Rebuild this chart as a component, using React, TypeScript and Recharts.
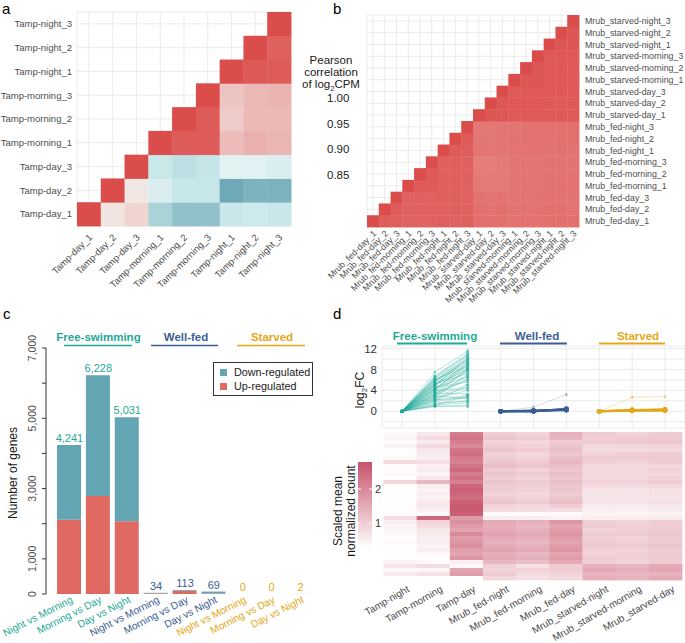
import React from 'react';
import {
  ScatterChart,
  Scatter,
  XAxis,
  YAxis,
  CartesianGrid,
  ComposedChart,
  Bar,
  LabelList,
  Legend,
  LineChart,
  Line,
} from 'recharts';

const FONT = '"Liberation Sans", Arial, Helvetica, sans-serif';
const GREY = '#4d4d4d';
const GRID = '#ebebeb';
const TEAL = '#1fa997';
const NAVY = '#3b5e91';
const GOLD = '#e3a81a';
const UP_COL = '#e06a62';
const DOWN_COL = '#64a5b3';

// ---------- a: Tamp replicate correlations ----------
const tampSamples = [
  'Tamp-day_1', 'Tamp-day_2', 'Tamp-day_3',
  'Tamp-morning_1', 'Tamp-morning_2', 'Tamp-morning_3',
  'Tamp-night_1', 'Tamp-night_2', 'Tamp-night_3',
];
// one row per sample (bottom to top), starting at the diagonal
const tampCorr = [
  [1.0, 0.81, 0.83, 0.7, 0.666, 0.668, 0.74, 0.746, 0.74],
  [1.0, 0.805, 0.766, 0.74, 0.738, 0.622, 0.64, 0.638],
  [1.0, 0.742, 0.724, 0.736, 0.778, 0.777, 0.766],
  [1.0, 0.982, 0.981, 0.86, 0.874, 0.868],
  [1.0, 0.981, 0.842, 0.864, 0.864],
  [1.0, 0.85, 0.866, 0.87],
  [1.0, 0.985, 0.982],
  [1.0, 0.975],
  [1.0],
];

// ---------- b: Mrub replicate correlations ----------
const mrubSamples = [
  'Mrub_fed-day_1', 'Mrub_fed-day_2', 'Mrub_fed-day_3',
  'Mrub_fed-morning_1', 'Mrub_fed-morning_2', 'Mrub_fed-morning_3',
  'Mrub_fed-night_1', 'Mrub_fed-night_2', 'Mrub_fed-night_3',
  'Mrub_starved-day_1', 'Mrub_starved-day_2', 'Mrub_starved-day_3',
  'Mrub_starved-morning_1', 'Mrub_starved-morning_2', 'Mrub_starved-morning_3',
  'Mrub_starved-night_1', 'Mrub_starved-night_2', 'Mrub_starved-night_3',
];
const mrubCorr = [
  [1, 0.982, 0.98, 0.975, 0.975, 0.975, 0.977, 0.976, 0.978, 0.962, 0.96, 0.96, 0.958, 0.958, 0.958, 0.96, 0.962, 0.96],
  [1, 0.983, 0.976, 0.976, 0.975, 0.977, 0.977, 0.975, 0.96, 0.958, 0.962, 0.957, 0.957, 0.958, 0.96, 0.96, 0.958],
  [1, 0.976, 0.977, 0.976, 0.978, 0.978, 0.976, 0.958, 0.956, 0.958, 0.956, 0.955, 0.957, 0.958, 0.958, 0.957],
  [1, 0.985, 0.984, 0.979, 0.979, 0.976, 0.95, 0.948, 0.95, 0.955, 0.956, 0.956, 0.957, 0.958, 0.958],
  [1, 0.985, 0.978, 0.978, 0.977, 0.948, 0.947, 0.95, 0.955, 0.954, 0.955, 0.957, 0.957, 0.957],
  [1, 0.979, 0.979, 0.977, 0.946, 0.946, 0.95, 0.954, 0.955, 0.955, 0.957, 0.958, 0.957],
  [1, 0.984, 0.983, 0.955, 0.953, 0.955, 0.956, 0.958, 0.958, 0.958, 0.96, 0.958],
  [1, 0.984, 0.954, 0.953, 0.955, 0.957, 0.957, 0.958, 0.958, 0.96, 0.96],
  [1, 0.952, 0.952, 0.954, 0.956, 0.957, 0.958, 0.958, 0.959, 0.96],
  [1, 0.988, 0.988, 0.986, 0.986, 0.986, 0.985, 0.985, 0.985],
  [1, 0.988, 0.986, 0.986, 0.986, 0.985, 0.985, 0.985],
  [1, 0.986, 0.986, 0.986, 0.985, 0.985, 0.985],
  [1, 0.989, 0.989, 0.986, 0.986, 0.986],
  [1, 0.989, 0.986, 0.986, 0.986],
  [1, 0.986, 0.986, 0.986],
  [1, 0.99, 0.99],
  [1, 0.99],
  [1],
];
const pearsonTicks = ['1.00', '0.95', '0.90', '0.85'];

// ---------- c: DE gene counts ----------
const conditions = ['Free-swimming', 'Well-fed', 'Starved'];
const conditionColors = [TEAL, NAVY, GOLD];
const comparisons = ['Night vs Morning', 'Morning vs Day', 'Day vs Night'];
const upRegulated = [2115, 2790, 2070, 20, 90, 15, 0, 0, 0];
const downRegulated = [2126, 3438, 2961, 14, 23, 54, 0, 0, 2];
const countTicks = [0, 1000, 2000, 3000, 4000, 5000, 6000, 7000];

// ---------- d: log2FC profiles and heatmap ----------
const timepoints = [
  'Tamp-night', 'Tamp-morning', 'Tamp-day',
  'Mrub_fed-night', 'Mrub_fed-morning', 'Mrub_fed-day',
  'Mrub_starved-night', 'Mrub_starved-morning', 'Mrub_starved-day',
];
const freeMorning = [1.0, 1.4, 2.1, 2.6, 3.0, 3.3, 3.7, 4.0, 4.4, 4.8, 5.1, 5.5, 5.9, 6.3, 6.8, 7.5, 1.2, 1.8, 2.4, 2.9, 3.5, 3.9, 4.2, 4.6, 5.0, 5.3, 5.7, 6.1, 6.6, 0.9, 1.6, 2.2, 2.8, 3.2, 3.6, 4.1, 4.5, 4.9, 5.4, 5.8, 6.4, 1.1, 2.0, 3.1, 4.3, 5.2, 6.0, 2.5];
const freeDay = [0.9, 2.0, 3.1, 5.2, 2.4, 6.8, 7.6, 4.3, 8.4, 9.1, 7.9, 10.2, 9.6, 11.0, 10.6, 11.6, 1.6, 2.8, 4.0, 6.1, 3.3, 8.0, 8.9, 5.6, 9.9, 7.2, 10.8, 8.6, 11.3, 1.2, 1.9, 2.6, 7.1, 8.2, 5.9, 9.4, 6.6, 10.4, 8.8, 9.2, 10.0, 3.0, 5.0, 6.4, 7.7, 8.3, 9.7, 4.6];
const fedMorning = [0.05, 0.0, 0.1, -0.05, 0.15, 0.8, 0.02, 0.08];
const fedDay = [0.3, 0.45, 0.2, 0.5, 0.35, 3.2, 0.4, 0.25];
const starvedMorning = [0.1, 0.2, 0.3, 0.15, 2.7, 0.05, 0.25];
const starvedDay = [0.2, 0.3, 0.1, 0.35, 2.8, 0.15, 0.4];
const fcTicks = [-2, 0, 2, 4, 6, 8, 10, 12];

// scaled mean normalized count, one array per timepoint, rows top to bottom
const countTampNight = [0.35, 0.4, 0.3, 0.45, 0.3, 0.3, 0.35, 0.8, 0.3, 0.3, 0.35, 0.3, 0.85, 0.3, 0.25, 0.3, 0.25, 0.3, 0.3, 0.3, 0.3, 0.75, 0.5, 0.45, 0.4, 0.35, 0.3, 0.35, 0.3, 0.3, 0.25, 0.3, 0.45, 0.65, 0.35, 0.55, 0.25];
const countTampMorning = [0.6, 0.75, 0.55, 0.8, 0.6, 0.55, 0.5, 0.7, 0.5, 0.55, 0.45, 0.6, 1.3, 0.5, 0.45, 0.5, 0.45, 0.55, 0.6, 0.5, 0.35, 2.5, 0.9, 0.8, 0.6, 0.55, 0.5, 0.5, 0.45, 0.5, 0.35, 0.3, 0.35, 0.75, 0.4, 0.7, 0.25];
const countTampDay = [2.2, 2.3, 2.15, 2.0, 2.3, 2.4, 2.2, 2.1, 2.3, 2.45, 2.2, 2.35, 2.1, 2.5, 2.6, 2.5, 2.4, 2.6, 2.7, 2.7, 2.6, 1.7, 1.9, 1.75, 1.6, 2.0, 1.7, 1.8, 1.9, 1.65, 1.6, 1.8, 0.5, 0.35, 1.6, 1.7, 0.25];
const countFedNight = [1.0, 1.1, 0.9, 1.0, 1.1, 0.95, 1.0, 1.1, 1.2, 1.0, 1.1, 1.0, 1.1, 1.0, 1.0, 0.9, 1.0, 1.1, 0.9, 0.8, 0.35, 0.5, 1.5, 1.45, 1.5, 1.6, 1.5, 1.4, 1.5, 1.6, 1.45, 1.5, 1.3, 0.95, 0.9, 1.0, 0.85];
const countFedMorning = [0.9, 1.0, 0.85, 0.9, 1.0, 0.85, 0.9, 1.0, 1.1, 0.9, 1.0, 0.9, 1.0, 0.95, 0.9, 0.85, 0.9, 1.0, 0.85, 0.75, 0.35, 0.5, 1.4, 1.3, 1.4, 1.5, 1.4, 1.3, 1.4, 1.5, 1.3, 1.4, 1.2, 0.7, 0.9, 0.8, 0.7];
const countFedDay = [1.4, 1.35, 1.0, 1.1, 1.2, 1.1, 1.2, 1.3, 1.2, 1.1, 1.2, 1.1, 1.2, 1.1, 1.1, 1.0, 1.1, 1.2, 1.0, 0.75, 0.35, 0.45, 1.8, 1.6, 1.7, 1.8, 1.7, 1.6, 1.7, 1.8, 1.6, 1.7, 1.5, 1.0, 1.0, 0.9, 0.8];
const countStarvedNight = [1.0, 0.95, 1.0, 0.85, 0.8, 0.9, 1.0, 0.95, 0.85, 0.8, 0.85, 0.8, 0.9, 0.8, 0.65, 0.6, 0.65, 0.6, 0.55, 0.5, 0.45, 0.5, 0.95, 1.0, 0.9, 1.0, 0.95, 1.0, 1.05, 0.95, 0.9, 1.0, 0.95, 1.4, 1.5, 1.35, 1.45];
const countStarvedMorning = [0.9, 1.0, 1.05, 0.85, 0.8, 0.95, 1.0, 0.9, 0.8, 0.85, 0.8, 0.85, 0.9, 0.75, 0.6, 0.65, 0.6, 0.65, 0.55, 0.5, 0.4, 0.5, 0.9, 0.95, 0.95, 1.0, 0.9, 0.95, 1.0, 0.9, 0.95, 0.95, 0.9, 1.35, 1.4, 1.3, 1.35];
const countStarvedDay = [1.0, 1.05, 1.1, 0.9, 0.85, 1.0, 1.05, 1.0, 0.85, 0.9, 0.85, 0.9, 1.0, 0.8, 0.7, 0.7, 0.65, 0.7, 0.6, 0.55, 0.45, 0.55, 1.0, 1.0, 1.05, 1.1, 1.0, 1.05, 1.1, 1.0, 1.0, 1.05, 1.0, 1.5, 1.55, 1.4, 1.5];
const countColumns = [
  countTampNight, countTampMorning, countTampDay,
  countFedNight, countFedMorning, countFedDay,
  countStarvedNight, countStarvedMorning, countStarvedDay,
];

// ---------- colour helpers ----------
const mix = (c1: string, c2: string, t: number) => {
  const tt = Math.max(0, Math.min(1, t));
  const a = [1, 3, 5].map((i) => parseInt(c1.slice(i, i + 2), 16));
  const b = [1, 3, 5].map((i) => parseInt(c2.slice(i, i + 2), 16));
  return `rgb(${a.map((v, k) => Math.round(v + (b[k] - v) * tt)).join(',')})`;
};
const colorTamp = (v: number) => {
  if (v >= 0.8) return mix('#f2ece9', '#db4d4a', (v - 0.8) / 0.2);
  const t = (0.8 - v) / 0.2;
  return t < 0.3 ? mix('#f2f8f8', '#c8e7ea', t / 0.3) : mix('#c8e7ea', '#5e9ead', (t - 0.3) / 0.7);
};
const colorMrub = (v: number) => mix('#ffffff', '#db4d4a', (v - 0.8) / 0.2);
const colorCount = (v: number) => mix('#ffffff', '#c7536a', (v - 0.25) / 2.55);

const fmt = (v: number) => String(v).replace(/\B(?=(\d{3})+(?!\d))/g, ',');

type Cell = { x: number; y: number; v: number };

const triangleCells = (rows: number[][]): Cell[] =>
  rows.flatMap((row, i) => row.map((v, k) => ({ x: i + k + 1, y: i + 1, v })));

function Heatmap(props: {
  width: number;
  height: number;
  margin: { top: number; right: number; bottom: number; left: number };
  nx: number;
  ny: number;
  cells: Cell[];
  color: (v: number) => string;
  xLabels: string[];
  yLabels?: string[];
  yOrientation?: 'left' | 'right';
  yAxisWidth: number;
  xAxisHeight: number;
  fontSize: number;
  angle: number;
  dx: number;
  dy: number;
  grid: boolean;
}) {
  const { width, height, margin, nx, ny, cells, color, xLabels, yLabels, yAxisWidth, xAxisHeight, fontSize, angle, dx, dy } = props;
  const cw = (width - margin.left - margin.right - yAxisWidth) / nx;
  const ch = (height - margin.top - margin.bottom - xAxisHeight) / ny;
  const xt = Array.from({ length: nx }, (_, i) => i + 1);
  const yt = Array.from({ length: ny }, (_, i) => i + 1);
  const right = props.yOrientation === 'right';
  return (
    <ScatterChart width={width} height={height} margin={margin}>
      {props.grid && <CartesianGrid stroke={GRID} strokeWidth={1} />}
      <XAxis
        type="number"
        dataKey="x"
        domain={[0.5, nx + 0.5]}
        ticks={xt}
        interval={0}
        height={xAxisHeight}
        axisLine={false}
        tickLine={false}
        tickSize={0}
        tickMargin={0}
        tick={(p: any) => {
          const tx = p.x + dx;
          const ty = p.y + dy;
          return (
            <text x={tx} y={ty} transform={`rotate(${angle} ${tx} ${ty})`} textAnchor="end" fontSize={fontSize} fill={GREY} fontFamily={FONT}>
              {xLabels[p.payload.value - 1]}
            </text>
          );
        }}
      />
      <YAxis
        type="number"
        dataKey="y"
        domain={[0.5, ny + 0.5]}
        ticks={yt}
        interval={0}
        hide={!yLabels}
        width={yAxisWidth}
        orientation={props.yOrientation || 'left'}
        axisLine={false}
        tickLine={false}
        tickSize={0}
        tickMargin={0}
        tick={(p: any) => (
          <text
            x={right ? p.x + 6 : p.x - 5}
            y={p.y}
            dy="0.35em"
            textAnchor={right ? 'start' : 'end'}
            fontSize={fontSize}
            fill={GREY}
            fontFamily={FONT}
          >
            {yLabels ? yLabels[p.payload.value - 1] : ''}
          </text>
        )}
      />
      <Scatter
        data={cells}
        isAnimationActive={false}
        shape={(p: any) => (
          <rect x={p.cx - cw / 2} y={p.cy - ch / 2} width={cw + 0.4} height={ch + 0.4} fill={color(p.payload.v)} />
        )}
      />
    </ScatterChart>
  );
}

// ---------- c ----------
const deTable = conditions.flatMap((cond, ci) =>
  comparisons.map((cmp, k) => {
    const i = ci * 3 + k;
    return {
      id: `${cond}: ${cmp}`,
      cmp,
      group: ci,
      up: upRegulated[i],
      down: downRegulated[i],
      total: upRegulated[i] + downRegulated[i],
    };
  })
);

function DeBars() {
  return (
    <ComposedChart width={340} height={343} data={deTable} margin={{ top: 48, right: 25, bottom: 0, left: 0 }}>
      <XAxis
        dataKey="id"
        height={49}
        padding={{ left: 9, right: 0 }}
        axisLine={false}
        tickLine={false}
        tickSize={0}
        tickMargin={0}
        interval={0}
        tick={(p: any) => {
          const row = deTable[p.index];
          const tx = p.x + 4;
          const ty = p.y + 8;
          return (
            <text x={tx} y={ty} transform={`rotate(-27 ${tx} ${ty})`} textAnchor="end" fontSize={10.2} fill={conditionColors[row.group]} fontFamily={FONT}>
              {row.cmp}
            </text>
          );
        }}
      />
      <YAxis
        type="number"
        domain={[0, 7000]}
        ticks={countTicks}
        interval={0}
        width={46}
        axisLine={{ stroke: '#333', strokeWidth: 1 }}
        tickLine={{ stroke: '#333', strokeWidth: 1 }}
        tickSize={4}
        tickMargin={0}
        tick={(p: any) => {
          const v = p.payload.value;
          if (!(v === 0 || v % 2000 === 1000)) return <g />;
          const tx = p.x - 6;
          return (
            <text x={tx} y={p.y} transform={`rotate(-90 ${tx} ${p.y})`} textAnchor="middle" fontSize={10.5} fill={GREY} fontFamily={FONT}>
              {fmt(v)}
            </text>
          );
        }}
      />
      <Legend
        layout="vertical"
        align="center"
        verticalAlign="middle"
        wrapperStyle={{ position: 'absolute', left: 213, top: 62, width: 100, height: 34 }}
        content={() => (
          <div style={{ position: 'relative', width: 98, height: 32, border: '1px solid #333', fontFamily: FONT, fontSize: 10.8, color: '#1a1a1a', whiteSpace: 'nowrap' }}>
            {[
              ['Down-regulated', DOWN_COL],
              ['Up-regulated', UP_COL],
            ].map(([name, col], i) => (
              <div key={name} style={{ position: 'absolute', left: 6, top: 2 + i * 14, height: 14, display: 'flex', alignItems: 'center' }}>
                <span style={{ display: 'inline-block', width: 7, height: 7, background: col, marginRight: 7 }} />
                <span>{name}</span>
              </div>
            ))}
          </div>
        )}
      />
      <Bar dataKey="up" stackId="n" fill={UP_COL} barSize={24} isAnimationActive={false} />
      <Bar dataKey="down" stackId="n" fill={DOWN_COL} barSize={24} isAnimationActive={false} />
      <Line
        dataKey="total"
        stroke="none"
        dot={false}
        activeDot={false}
        legendType="none"
        isAnimationActive={false}
      >
        <LabelList
          dataKey="total"
          content={(p: any) => (
            <text x={p.x} y={p.y - 3} textAnchor="middle" fontSize={11} fill={conditionColors[deTable[p.index].group]} fontFamily={FONT}>
              {fmt(p.value)}
            </text>
          )}
        />
      </Line>
    </ComposedChart>
  );
}

// ---------- d ----------
const fcRows = timepoints.map((tp, k) => {
  const row: Record<string, number | string> = { pos: k + 1, tp };
  freeMorning.forEach((m, i) => {
    if (k < 3) row[`f${i}`] = [0, m, freeDay[i]][k];
  });
  fedMorning.forEach((m, i) => {
    if (k >= 3 && k < 6) row[`w${i}`] = [0, m, fedDay[i]][k - 3];
  });
  starvedMorning.forEach((m, i) => {
    if (k >= 6) row[`s${i}`] = [0, m, starvedDay[i]][k - 6];
  });
  return row;
});

function FoldChange() {
  // lines that stay near zero overlap into one heavy stroke; the few that rise are faint
  const series = [
    ...freeMorning.map((_, i) => ({ key: `f${i}`, col: TEAL, op: 0.3, w: 1, r: 1.5 })),
    ...fedMorning.map((m, i) => {
      const rise = Math.max(m, fedDay[i]) > 1;
      return { key: `w${i}`, col: NAVY, op: rise ? 0.2 : 0.75, w: rise ? 1 : 2, r: rise ? 1.4 : 2.4 };
    }),
    ...starvedMorning.map((m, i) => {
      const rise = Math.max(m, starvedDay[i]) > 1;
      return { key: `s${i}`, col: GOLD, op: rise ? 0.3 : 0.75, w: rise ? 1 : 2, r: rise ? 1.4 : 2.4 };
    }),
  ];
  return (
    <LineChart width={385} height={135} data={fcRows} margin={{ top: 46, right: 0, bottom: 7, left: 0 }}>
      <CartesianGrid stroke={GRID} strokeWidth={1} />
      <XAxis type="number" dataKey="pos" domain={[0.392, 9.608]} ticks={[1, 2, 3, 4, 5, 6, 7, 8, 9]} hide />
      <YAxis
        type="number"
        domain={[-3.2, 12.5]}
        ticks={fcTicks}
        interval={0}
        allowDataOverflow
        width={82}
        axisLine={false}
        tickLine={false}
        tickSize={0}
        tickMargin={0}
        tick={(p: any) => {
          const v = p.payload.value;
          if (v < 0 || v % 4 !== 0) return <g />;
          return (
            <text x={p.x - 5} y={p.y} dy="0.35em" textAnchor="end" fontSize={11.5} fill="#333" fontFamily={FONT}>
              {v}
            </text>
          );
        }}
      />
      {series.map((s) => (
        <Line
          key={s.key}
          dataKey={s.key}
          stroke={s.col}
          strokeOpacity={s.op}
          strokeWidth={s.w}
          dot={{ r: s.r, fill: s.col, fillOpacity: Math.min(1, s.op + 0.2), stroke: 'none' }}
          isAnimationActive={false}
        />
      ))}
    </LineChart>
  );
}

const countCells: Cell[] = countColumns.flatMap((col, c) =>
  col.map((v, r) => ({ x: c + 1, y: col.length - r, v }))
);

export default function App() {
  const headC = [
    { cx: 98.5, x1: 64, x2: 132 },
    { cx: 186, x1: 151, x2: 218 },
    { cx: 272, x1: 237, x2: 305 },
  ];
  const headD = [
    { cx: 435, x1: 397, x2: 467 },
    { cx: 537, x1: 500, x2: 567 },
    { cx: 638, x1: 599, x2: 665 },
  ];
  return (
    <div style={{ position: 'absolute', left: 0, top: 0, width: 685, height: 643, background: '#fff', overflow: 'hidden', fontFamily: FONT }}>
      <div style={{ position: 'absolute', left: 0, top: 0 }}>
        <Heatmap
          width={300}
          height={310}
          margin={{ top: 12, right: 9, bottom: 10, left: 0 }}
          nx={9}
          ny={9}
          cells={triangleCells(tampCorr)}
          color={colorTamp}
          xLabels={tampSamples}
          yLabels={tampSamples}
          yAxisWidth={77}
          xAxisHeight={74}
          fontSize={9.5}
          angle={-45}
          dx={4}
          dy={12}
          grid
        />
      </div>
      <div style={{ position: 'absolute', left: 300, top: 0 }}>
        <Heatmap
          width={385}
          height={330}
          margin={{ top: 15, right: 0, bottom: 30, left: 67 }}
          nx={18}
          ny={18}
          cells={triangleCells(mrubCorr)}
          color={colorMrub}
          xLabels={mrubSamples}
          yLabels={mrubSamples}
          yOrientation="right"
          yAxisWidth={106}
          xAxisHeight={73}
          fontSize={8.8}
          angle={-45}
          dx={4}
          dy={7}
          grid
        />
      </div>
      <div style={{ position: 'absolute', left: 0, top: 300 }}>
        <DeBars />
      </div>
      <div style={{ position: 'absolute', left: 300, top: 300 }}>
        <FoldChange />
      </div>
      <div style={{ position: 'absolute', left: 300, top: 430 }}>
        <Heatmap
          width={385}
          height={213}
          margin={{ top: 2, right: 3, bottom: 0, left: 83.5 }}
          nx={9}
          ny={37}
          cells={countCells}
          color={colorCount}
          xLabels={timepoints}
          yAxisWidth={0}
          xAxisHeight={63}
          fontSize={10}
          angle={-30}
          dx={10}
          dy={11}
          grid={false}
        />
      </div>

      <svg width={685} height={643} style={{ position: 'absolute', left: 0, top: 0, pointerEvents: 'none' }} fontFamily={FONT}>
        <text x={2} y={14} fontSize={15} fill="#000">a</text>
        <text x={333} y={14} fontSize={15} fill="#000">b</text>
        <text x={3} y={319} fontSize={15} fill="#000">c</text>
        <text x={333} y={319} fontSize={15} fill="#000">d</text>

        {/* b: colour legend title and labels */}
        <g fontSize={11.5} fill="#1a1a1a" textAnchor="middle">
          <text x={331} y={64}>Pearson</text>
          <text x={331} y={76}>correlation</text>
          <text x={331} y={88}>
            of log<tspan fontSize={7.5} dy={3}>2</tspan>
            <tspan dy={-3}>CPM</tspan>
          </text>
        </g>
        {pearsonTicks.map((t, i) => (
          <text key={t} x={327} y={102 + i * 25.5} fontSize={11.5} fill="#1a1a1a">{t}</text>
        ))}

        {/* c: condition headers */}
        {conditions.map((c, i) => (
          <g key={c}>
            <text x={headC[i].cx} y={341} textAnchor="middle" fontSize={11.5} fontWeight="bold" fill={conditionColors[i]}>{c}</text>
            <line x1={headC[i].x1} x2={headC[i].x2} y1={345.5} y2={345.5} stroke={conditionColors[i]} strokeWidth={1.5} />
          </g>
        ))}
        <text x={17} y={473} transform="rotate(-90 17 473)" textAnchor="middle" fontSize={12} fill="#1a1a1a">Number of genes</text>

        {/* d: condition headers */}
        {conditions.map((c, i) => (
          <g key={c}>
            <text x={headD[i].cx} y={340} textAnchor="middle" fontSize={11.5} fontWeight="bold" fill={conditionColors[i]}>{c}</text>
            <line x1={headD[i].x1} x2={headD[i].x2} y1={343.5} y2={343.5} stroke={conditionColors[i]} strokeWidth={1.8} />
          </g>
        ))}
        <text x={364} y={390} transform="rotate(-90 364 390)" textAnchor="middle" fontSize={12} fill="#1a1a1a">
          log<tspan fontSize={8} dy={3}>2</tspan>
          <tspan dy={-3}>FC</tspan>
        </text>

        {/* d: colour bar */}
        <defs>
          <linearGradient id="countGrad" x1="0" y1="1" x2="0" y2="0">
            <stop offset="0%" stopColor="#ffffff" />
            <stop offset="100%" stopColor="#c7536a" />
          </linearGradient>
        </defs>
        <rect x={358} y={462} width={14} height={86} fill="url(#countGrad)" />
        {[
          { v: '2', y: 489 },
          { v: '1', y: 523 },
        ].map((t) => (
          <g key={t.v}>
            <line x1={358} x2={361} y1={t.y} y2={t.y} stroke="#fff" strokeWidth={1} />
            <line x1={369} x2={372} y1={t.y} y2={t.y} stroke="#fff" strokeWidth={1} />
            <text x={375} y={t.y} dy="0.35em" fontSize={11} fill="#333">{t.v}</text>
          </g>
        ))}
        <text x={342} y={511} transform="rotate(-90 342 511)" textAnchor="middle" fontSize={12} fill="#1a1a1a">Scaled mean</text>
        <text x={355} y={511} transform="rotate(-90 355 511)" textAnchor="middle" fontSize={12} fill="#1a1a1a">normalized count</text>
      </svg>
    </div>
  );
}
